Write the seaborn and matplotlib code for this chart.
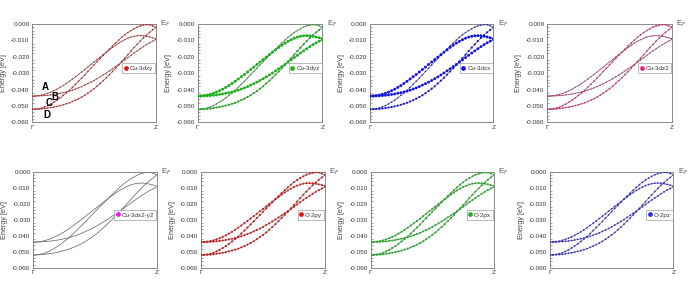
import numpy as np
import pandas as pd
import matplotlib
matplotlib.use("Agg")
import matplotlib.pyplot as plt
import seaborn as sns
from matplotlib.ticker import MultipleLocator
from matplotlib.lines import Line2D

# ---------------- data ----------------
kpts = np.linspace(0.0, 1.0, 41)  # k-grid from Gamma (0) to Z (1)

band_A = [-0.0440, -0.0439, -0.0437, -0.0434, -0.0429, -0.0423, -0.0416, -0.0407, -0.0398,
          -0.0387, -0.0376, -0.0363, -0.0350, -0.0336, -0.0322, -0.0308, -0.0293,
          -0.0278, -0.0263, -0.0247, -0.0232, -0.0217, -0.0202, -0.0187, -0.0172,
          -0.0158, -0.0143, -0.0130, -0.0117, -0.0106, -0.0096, -0.0087, -0.0080,
          -0.0075, -0.0072, -0.0071, -0.0072, -0.0075, -0.0079, -0.0084, -0.0090]
band_B = [-0.0440, -0.0440, -0.0439, -0.0438, -0.0437, -0.0435, -0.0433, -0.0430, -0.0427,
          -0.0423, -0.0419, -0.0415, -0.0410, -0.0404, -0.0397, -0.0390, -0.0382,
          -0.0373, -0.0364, -0.0355, -0.0345, -0.0334, -0.0323, -0.0311, -0.0299,
          -0.0286, -0.0273, -0.0260, -0.0247, -0.0233, -0.0219, -0.0205, -0.0191,
          -0.0177, -0.0164, -0.0151, -0.0138, -0.0126, -0.0115, -0.0105, -0.0095]
band_C = [-0.0520, -0.0519, -0.0517, -0.0513, -0.0507, -0.0498, -0.0488, -0.0477, -0.0465,
          -0.0451, -0.0436, -0.0421, -0.0405, -0.0387, -0.0368, -0.0349, -0.0330,
          -0.0310, -0.0290, -0.0270, -0.0250, -0.0230, -0.0211, -0.0191, -0.0172,
          -0.0153, -0.0134, -0.0116, -0.0098, -0.0081, -0.0066, -0.0052, -0.0040,
          -0.0029, -0.0019, -0.0012, -0.0007, -0.0004, -0.0005, -0.0011, -0.0020]
band_D = [-0.0520, -0.0520, -0.0519, -0.0518, -0.0516, -0.0513, -0.0510, -0.0507, -0.0503,
          -0.0498, -0.0493, -0.0487, -0.0481, -0.0473, -0.0465, -0.0456, -0.0446,
          -0.0435, -0.0422, -0.0409, -0.0395, -0.0380, -0.0363, -0.0346, -0.0328,
          -0.0309, -0.0290, -0.0270, -0.0250, -0.0229, -0.0208, -0.0187, -0.0165,
          -0.0144, -0.0124, -0.0104, -0.0085, -0.0068, -0.0051, -0.0036, -0.0021]
band_names = ["A", "B", "C", "D"]

panel_labels = ["Cu-3dxy", "Cu-3dyz", "Cu-3dzx", "Cu-3dz2",
                "Cu-3dx2-y2", "O-2py", "O-2px", "O-2pz"]
panel_colors = ["#e01818", "#14b414", "#1212ea", "#e8207a",
                "#ff10ff", "#d81414", "#22b422", "#2a2ae6"]
# projected weights (marker size) of each band in each panel
weight_A = [0.12, 1.00, 1.00, 0.12, 0.0, 0.45, 0.45, 0.30]
weight_B = [0.12, 0.95, 0.95, 0.12, 0.0, 0.45, 0.45, 0.30]
weight_C = [0.22, 0.18, 0.18, 0.25, 0.0, 0.45, 0.45, 0.30]
weight_D = [0.22, 0.50, 0.50, 0.25, 0.0, 0.45, 0.45, 0.30]

ytick_values = [0.000, -0.010, -0.020, -0.030, -0.040, -0.050, -0.060]
ytick_labels = ["0.000", "-0.010", "-0.020", "-0.030", "-0.040", "-0.050", "-0.060"]
xtick_labels = ["\u0393", "Z"]
point_labels = ["A", "B", "C", "D"]
point_k = [0.108, 0.184, 0.135, 0.122]
point_E = [-0.0386, -0.0444, -0.0484, -0.0555]

# ---------------- layout ----------------
W, H = 695, 295
axes_px = [  # left, top, right, bottom in pixels
    (32.3, 24.0, 155.7, 122.3), (197.7, 24.0, 322.3, 122.3),
    (370.0, 24.0, 493.3, 122.3), (547.3, 24.0, 671.7, 122.3),
    (33.3, 171.7, 156.7, 267.7), (201.0, 171.7, 325.0, 267.7),
    (370.7, 171.7, 494.0, 267.7), (550.0, 171.7, 673.3, 267.7),
]

sns.set_theme(style="white")
plt.rcParams["font.family"] = ["Liberation Sans", "DejaVu Sans"]

fig = plt.figure(figsize=(W / 100, H / 100), dpi=100)

bands = [band_A, band_B, band_C, band_D]
weights = [weight_A, weight_B, weight_C, weight_D]

for i, (l, t, r, b) in enumerate(axes_px):
    ax = fig.add_axes([l / W, 1 - b / H, (r - l) / W, (b - t) / H])
    rows = []
    for name, vals, wts in zip(band_names, bands, weights):
        for k, e in zip(kpts, vals):
            rows.append({"k": k, "E": e, "band": name, "w": wts[i]})
    df = pd.DataFrame(rows)
    color = panel_colors[i]

    sns.lineplot(data=df, x="k", y="E", units="band", estimator=None,
                 color="#6a6a6a", lw=0.55, ax=ax, legend=False, sort=False)
    dots = df[df["w"] > 0]
    if len(dots):
        sns.scatterplot(data=dots, x="k", y="E", size="w", sizes=(0.4, 4.4),
                        size_norm=(0, 1), color=color, edgecolor="none",
                        linewidth=0, legend=False, ax=ax, zorder=3)

    ax.set_xlim(0, 1)
    ax.set_ylim(-0.060, 0.000)
    ax.set_xticks([0, 1])
    ax.set_xticklabels(xtick_labels)
    ax.set_yticks(ytick_values)
    ax.set_yticklabels(ytick_labels)
    ax.yaxis.set_minor_locator(MultipleLocator(0.002))
    ax.tick_params(axis="both", which="major", direction="in", length=2.5,
                   width=0.5, labelsize=4.6, colors="#333333", pad=2)
    ax.tick_params(axis="y", which="minor", direction="in", length=1.3,
                   width=0.4, colors="#555555", left=True)
    ax.tick_params(axis="x", which="major", length=0)
    ax.set_xlabel("")
    ax.set_ylabel("Energy [eV]", fontsize=5.2, color="#444444", labelpad=3)
    for sp in ax.spines.values():
        sp.set_linewidth(0.6)
        sp.set_color("#777777")

    ax.text(1.035, 1.0, "E$_F$", transform=ax.transAxes, fontsize=5.5,
            color="#555555", ha="left", va="center")

    handle = Line2D([], [], marker="o", ls="", color=color, markersize=2.4,
                    label=panel_labels[i])
    leg = ax.legend(handles=[handle], loc="center right",
                    bbox_to_anchor=(0.995, 0.55), fontsize=4.5, frameon=True,
                    fancybox=False, edgecolor="#888888", borderpad=0.35,
                    handlelength=0.5, handletextpad=0.35, borderaxespad=0.0)
    leg.get_frame().set_linewidth(0.5)
    for txt in leg.get_texts():
        txt.set_color("#333333")

    if i == 0:
        for lab, kx, ey in zip(point_labels, point_k, point_E):
            ax.text(kx, ey, lab, fontsize=7, fontweight="bold", color="black",
                    ha="center", va="center", zorder=5)

fig.savefig("out.png", dpi=100)
